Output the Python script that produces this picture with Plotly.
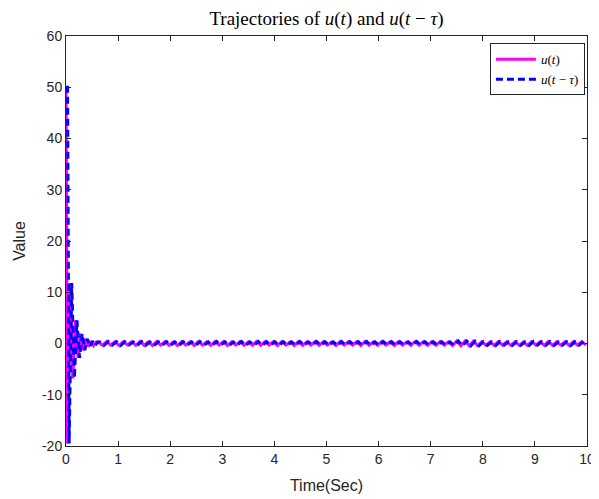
import numpy as np
import plotly.graph_objects as go

# ---- data ----
# transient part of u(t)
trans_t = [0.0, 0.03, 0.08, 0.13, 0.18, 0.23, 0.28, 0.33, 0.38, 0.43, 0.48, 0.53, 0.58]
trans_u = [50.0, -19.5, 11.8, -6.8, 4.5, -2.8, 1.9, -1.3, 0.9, -0.6, 0.45, -0.4, 0.3]

# small residual oscillation of u(t) after the transient (every 0.08 s from 0.62 s)
tail_u = [
    0.30, -0.35, 0.38, -0.30, 0.33, -0.40, 0.35, -0.28, 0.32, -0.36,
    0.40, -0.33, 0.30, -0.38, 0.34, -0.30, 0.37, -0.34, 0.31, -0.39,
    0.36, -0.29, 0.33, -0.37, 0.39, -0.32, 0.30, -0.35, 0.38, -0.31,
    0.34, -0.40, 0.32, -0.30, 0.37, -0.36, 0.31, -0.33, 0.40, -0.34,
    0.35, -0.29, 0.33, -0.38, 0.36, -0.31, 0.30, -0.37, 0.39, -0.35,
    0.32, -0.30, 0.38, -0.36, 0.34, -0.33, 0.31, -0.39, 0.37, -0.32,
    0.35, -0.30, 0.33, -0.37, 0.40, -0.34, 0.31, -0.36, 0.38, -0.29,
    0.34, -0.38, 0.36, -0.31, 0.32, -0.35, 0.39, -0.33, 0.36, -0.34,
    0.33, -0.36, 0.35, -0.32, 0.31, -0.38, 0.48, -0.45, 0.50, -0.42,
    0.45, -0.40, 0.36, -0.34, 0.32, -0.37, 0.38, -0.30, 0.33, -0.36,
    0.36, -0.35, 0.32, -0.37, 0.39, -0.31, 0.33, -0.36, 0.38, -0.34,
    0.30, -0.33, 0.35, -0.37, 0.34, -0.32, 0.36, -0.30,
]
tail_t0 = 0.62
tail_dt = 0.08

tau = 0.03            # delay
history_value = 50.0  # initial history of u for t < 0

x_ticks = [0, 1, 2, 3, 4, 5, 6, 7, 8, 9, 10]
y_ticks = [-20, -10, 0, 10, 20, 30, 40, 50, 60]
y_ticklabels = ["-20", "-10", "0", "10", "20", "30", "40", "50", "60"]

# ---- assemble series ----
tail_t = list(tail_t0 + tail_dt * np.arange(len(tail_u)))
t_all = np.array(trans_t + tail_t)
u_all = np.array(trans_u + tail_u)

# delayed signal: history on [0, tau], then u shifted by tau
td = np.concatenate([[0.0], t_all + tau])
ud = np.concatenate([[history_value], u_all])
mask = td <= 10
td, ud = td[mask], ud[mask]

fig = go.Figure()
fig.add_trace(go.Scatter(
    x=t_all, y=u_all, mode="lines",
    line=dict(color="#FF00FF", width=3),
    name="<i>u</i>(<i>t</i>)",
))
fig.add_trace(go.Scatter(
    x=td, y=ud, mode="lines",
    line=dict(color="#0000FF", width=3, dash="7px,4px"),
    name="<i>u</i>(<i>t</i> − <i>τ</i>)",
))

axis_common = dict(
    showgrid=False, zeroline=False, showline=True, linecolor="#262626", linewidth=1,
    mirror="ticks", ticks="inside", ticklen=5, tickcolor="#262626",
    tickfont=dict(family="Liberation Sans, Arial", size=14, color="#262626"),
    automargin=False,
)

# page body has an 8px default margin, so the figure is sized to fit the window
W, H = 591, 491
fig.update_layout(
    width=W, height=H,
    margin=dict(l=58, r=12, t=28, b=53),
    paper_bgcolor="white", plot_bgcolor="white",
    title=dict(
        text="Trajectories of <i>u</i>(<i>t</i>) and <i>u</i>(<i>t</i> − <i>τ</i>)",
        x=0.5, xref="paper", xanchor="center",
        y=1 - 10 / H, yref="container", yanchor="middle",
        font=dict(family="Liberation Serif, DejaVu Serif", size=19, color="black"),
    ),
    xaxis=dict(
        range=[0, 10], tickvals=x_ticks,
        title=dict(text="Time(Sec)", font=dict(family="Liberation Sans, Arial", size=16, color="#262626"), standoff=14),
        **axis_common,
    ),
    yaxis=dict(
        range=[-20, 60], tickvals=y_ticks, ticktext=y_ticklabels,
        title=dict(text="Value", font=dict(family="Liberation Sans, Arial", size=16, color="#262626"), standoff=12),
        **axis_common,
    ),
    legend=dict(
        x=0.996, y=0.982, xanchor="right", yanchor="top",
        bgcolor="white", bordercolor="#262626", borderwidth=1,
        font=dict(family="Liberation Serif, DejaVu Serif", size=13, color="black"),
        tracegroupgap=0, itemwidth=40,
    ),
    showlegend=True,
)

fig.write_html("out.html")
